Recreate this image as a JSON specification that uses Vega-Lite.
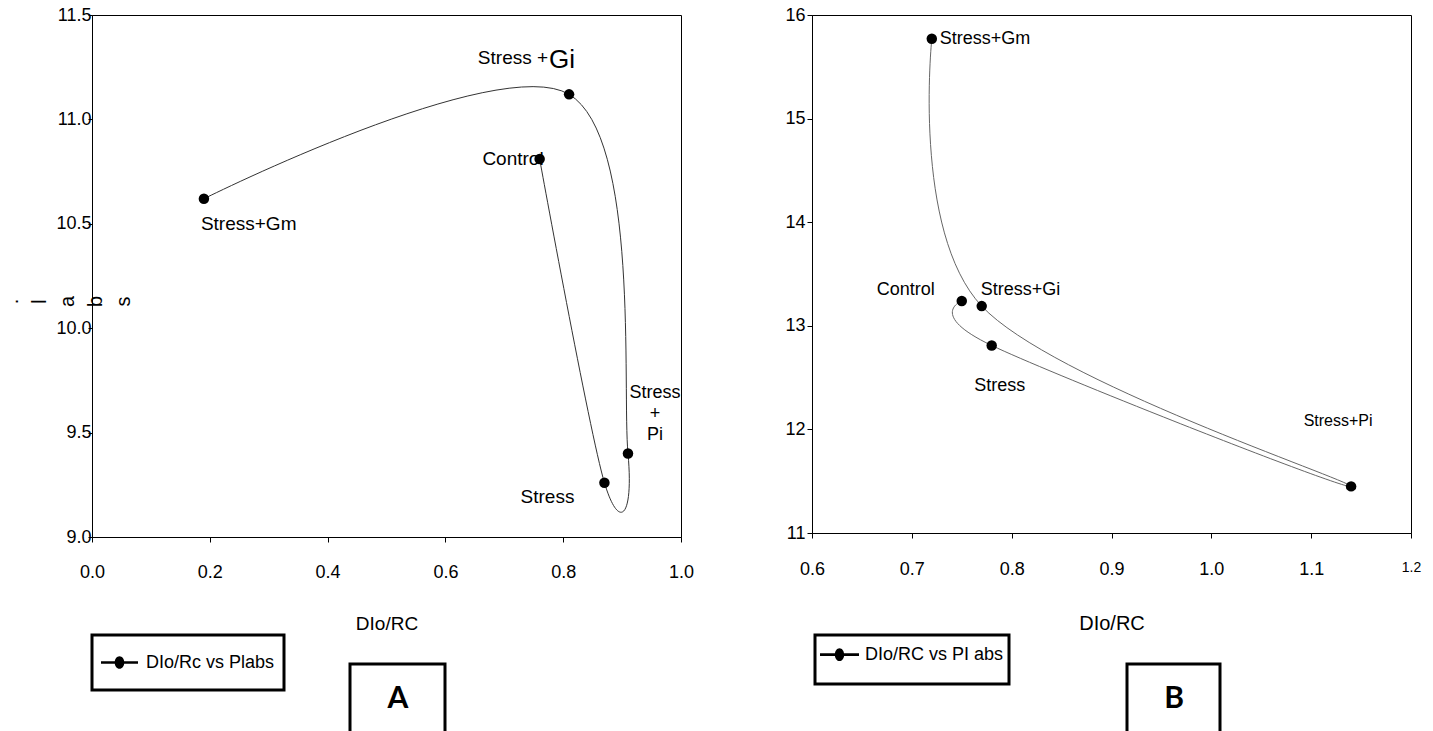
{
  "$schema": "https://vega.github.io/schema/vega-lite/v6.json",
  "background": "white",
  "padding": {"left": 0, "top": 5, "right": 0, "bottom": 0},
  "config": {
    "font": "Liberation Sans",
    "view": {"stroke": "black", "strokeWidth": 1},
    "axis": {"grid": false, "domainColor": "black", "tickColor": "black", "labelColor": "black", "titleColor": "black", "titleFontWeight": "normal", "domainWidth": 1, "tickWidth": 1},
    "legend": {"strokeColor": "black", "strokeWidth": 3, "labelColor": "black", "titleColor": "black"},
    "text": {"color": "black"}
  },
  "datasets": {
    "left": [
      {"cond": "Control", "ord": 1, "x": 0.76, "y": 10.81, "series": "DIo/Rc vs Plabs", "panel": "A", "label": "Control"},
      {"cond": "Stress", "ord": 2, "x": 0.87, "y": 9.26, "series": "DIo/Rc vs Plabs", "panel": "A", "label": "Stress"},
      {"cond": "Stress+Pi", "ord": 3, "x": 0.91, "y": 9.40, "series": "DIo/Rc vs Plabs", "panel": "A", "label": "Stress\n+\nPi"},
      {"cond": "Stress+Gi", "ord": 4, "x": 0.81, "y": 11.12, "series": "DIo/Rc vs Plabs", "panel": "A", "label": "Stress +", "suffix": "Gi"},
      {"cond": "Stress+Gm", "ord": 5, "x": 0.19, "y": 10.62, "series": "DIo/Rc vs Plabs", "panel": "A", "label": "Stress+Gm"}
    ],
    "right": [
      {"cond": "Control", "ord": 1, "x": 0.75, "y": 13.24, "series": "DIo/RC vs PI abs", "panel": "B", "label": "Control"},
      {"cond": "Stress", "ord": 2, "x": 0.78, "y": 12.81, "series": "DIo/RC vs PI abs", "panel": "B", "label": "Stress"},
      {"cond": "Stress+Pi", "ord": 3, "x": 1.14, "y": 11.45, "series": "DIo/RC vs PI abs", "panel": "B", "label": "Stress+Pi"},
      {"cond": "Stress+Gi", "ord": 4, "x": 0.77, "y": 13.19, "series": "DIo/RC vs PI abs", "panel": "B", "label": "Stress+Gi"},
      {"cond": "Stress+Gm", "ord": 5, "x": 0.72, "y": 15.77, "series": "DIo/RC vs PI abs", "panel": "B", "label": "Stress+Gm"}
    ]
  },
  "bounds": "flush",
  "spacing": 131,
  "resolve": {"scale": {"color": "independent", "shape": "independent", "x": "independent", "y": "independent"}, "legend": {"color": "independent", "shape": "independent"}},
  "hconcat": [
    {
      "width": 589,
      "height": 522,
      "data": {"name": "left"},
      "encoding": {
        "x": {"field": "x", "type": "quantitative", "scale": {"domain": [0, 1], "nice": false, "zero": false},
          "axis": {"title": "DIo/RC", "values": [0, 0.2, 0.4, 0.6, 0.8, 1.0], "format": ".1f", "labelDx": 12, "labelPadding": 21, "labelFontSize": 18, "tickSize": 5, "titleFontSize": 19, "titleY": 86, "titleBaseline": "middle", "labelFlush": false}},
        "y": {"field": "y", "type": "quantitative", "scale": {"domain": [9, 11.5], "nice": false, "zero": false},
          "axis": {"title": [".", "l", "a", "b", "s"], "titleAngle": 270, "titleFontSize": 20, "titleLineHeight": 28, "titleX": -81, "titleY": 286, "titleAlign": "center", "titleBaseline": "middle", "values": [9, 9.5, 10, 10.5, 11, 11.5], "format": ".1f", "labelFontSize": 18, "tickSize": 4, "labelPadding": -3, "labelFlush": false}}
      },
      "layer": [
        {"mark": {"type": "line", "interpolate": "cardinal", "color": "#333333", "strokeWidth": 1}, "encoding": {"order": {"field": "ord", "type": "quantitative"}}},
        {"mark": {"type": "point", "filled": true, "size": 110, "opacity": 1, "strokeWidth": 0},
          "encoding": {
            "color": {"field": "series", "type": "nominal", "scale": {"range": ["black"]},
              "legend": {"title": null, "orient": "none", "legendX": 0, "legendY": 620, "symbolType": "M-1,-0.07L1,-0.07L1,0.07L-1,0.07Z M-0.26,0A0.26,0.34 0 1,1 0.26,0A0.26,0.34 0 1,1 -0.26,0Z", "symbolSize": 1369, "clipHeight": 37, "symbolFillColor": "black", "symbolStrokeWidth": 0, "symbolOpacity": 1, "labelFontSize": 18, "labelOffset": 8, "padding": 9, "strokeColor": "black", "labelLimit": 400}},
            "shape": {"field": "panel", "type": "nominal", "scale": {"range": ["circle"]},
              "legend": {"title": "A", "orient": "none", "legendX": 258, "legendY": 649, "titleFontSize": 30, "titleFont": "Lato", "titleFontWeight": "bold", "titleAnchor": "middle", "titlePadding": 4, "padding": 20, "symbolSize": 3025, "symbolOpacity": 0, "symbolStrokeWidth": 0, "labelExpr": "''", "labelOffset": 0, "strokeColor": "black"}}
          }},
        {"transform": [{"filter": "datum.cond == 'Control'"}], "mark": {"type": "text", "align": "right", "baseline": "middle", "dx": 4, "dy": 0, "fontSize": 19}, "encoding": {"text": {"field": "label"}}},
        {"transform": [{"filter": "datum.cond == 'Stress'"}], "mark": {"type": "text", "align": "right", "baseline": "middle", "dx": -30, "dy": 14, "fontSize": 19}, "encoding": {"text": {"field": "label"}}},
        {"transform": [{"filter": "datum.cond == 'Stress+Pi'"}], "mark": {"type": "text", "align": "center", "baseline": "middle", "dx": 27, "dy": -60, "fontSize": 18, "lineHeight": 21, "lineBreak": "\n"}, "encoding": {"text": {"field": "label"}}},
        {"transform": [{"filter": "datum.cond == 'Stress+Gi'"}], "mark": {"type": "text", "align": "right", "baseline": "alphabetic", "dx": -21, "dy": -30, "fontSize": 19}, "encoding": {"text": {"field": "label"}}},
        {"transform": [{"filter": "datum.cond == 'Stress+Gi'"}], "mark": {"type": "text", "align": "left", "baseline": "alphabetic", "dx": -20, "dy": -26, "fontSize": 26}, "encoding": {"text": {"field": "suffix"}}},
        {"transform": [{"filter": "datum.cond == 'Stress+Gm'"}], "mark": {"type": "text", "align": "left", "baseline": "middle", "dx": -3, "dy": 25, "fontSize": 19}, "encoding": {"text": {"field": "label"}}}
      ]
    },
    {
      "width": 599,
      "height": 518,
      "data": {"name": "right"},
      "encoding": {
        "x": {"field": "x", "type": "quantitative", "scale": {"domain": [0.6, 1.2], "nice": false, "zero": false},
          "axis": {"title": "DIo/RC", "values": [0.6, 0.7, 0.8, 0.9, 1.0, 1.1, 1.2], "format": ".1f", "labelDx": 2, "labelPadding": 22, "labelFontSize": {"condition": {"test": "datum.value > 1.15", "value": 14}, "value": 18}, "tickSize": 5, "titleFontSize": 20, "titleY": 90, "titleBaseline": "middle", "labelFlush": false}},
        "y": {"field": "y", "type": "quantitative", "scale": {"domain": [11, 16], "nice": false, "zero": false},
          "axis": {"title": null, "values": [11, 12, 13, 14, 15, 16], "format": "d", "labelFontSize": 18, "tickSize": 5, "labelPadding": 2, "labelFlush": false}}
      },
      "layer": [
        {"mark": {"type": "line", "interpolate": "cardinal", "color": "#666666", "strokeWidth": 1}, "encoding": {"order": {"field": "ord", "type": "quantitative"}}},
        {"mark": {"type": "point", "filled": true, "size": 110, "opacity": 1, "strokeWidth": 0},
          "encoding": {
            "color": {"field": "series", "type": "nominal", "scale": {"range": ["black"]},
              "legend": {"title": null, "orient": "none", "legendX": 3, "legendY": 620, "symbolType": "M-1,-0.32L1,-0.32L1,-0.18L-1,-0.18Z M-0.24,-0.25A0.24,0.33 0 1,1 0.24,-0.25A0.24,0.33 0 1,1 -0.24,-0.25Z", "symbolSize": 1521, "clipHeight": 39, "symbolFillColor": "black", "symbolStrokeWidth": 0, "symbolOpacity": 1, "labelFontSize": 18, "labelOffset": 6, "labelBaseline": "alphabetic", "padding": 5, "strokeColor": "black", "labelLimit": 400}},
            "shape": {"field": "panel", "type": "nominal", "scale": {"range": ["circle"]},
              "legend": {"title": "B", "orient": "none", "legendX": 315, "legendY": 649, "titleFontSize": 30, "titleFont": "Lato", "titleFontWeight": "bold", "titleAnchor": "middle", "titlePadding": 4, "padding": 20, "symbolSize": 2809, "symbolOpacity": 0, "symbolStrokeWidth": 0, "labelExpr": "''", "labelOffset": 0, "strokeColor": "black"}}
          }},
        {"transform": [{"filter": "datum.cond == 'Control'"}], "mark": {"type": "text", "align": "right", "baseline": "middle", "dx": -27, "dy": -11, "fontSize": 18}, "encoding": {"text": {"field": "label"}}},
        {"transform": [{"filter": "datum.cond == 'Stress+Gi'"}], "mark": {"type": "text", "align": "left", "baseline": "middle", "dx": -1, "dy": -16, "fontSize": 18}, "encoding": {"text": {"field": "label"}}},
        {"transform": [{"filter": "datum.cond == 'Stress'"}], "mark": {"type": "text", "align": "center", "baseline": "middle", "dx": 8, "dy": 41, "fontSize": 18}, "encoding": {"text": {"field": "label"}}},
        {"transform": [{"filter": "datum.cond == 'Stress+Gm'"}], "mark": {"type": "text", "align": "left", "baseline": "middle", "dx": 8, "dy": 0, "fontSize": 18}, "encoding": {"text": {"field": "label"}}},
        {"transform": [{"filter": "datum.cond == 'Stress+Pi'"}], "mark": {"type": "text", "align": "center", "baseline": "middle", "dx": -13, "dy": -65, "fontSize": 16}, "encoding": {"text": {"field": "label"}}}
      ]
    }
  ]
}
